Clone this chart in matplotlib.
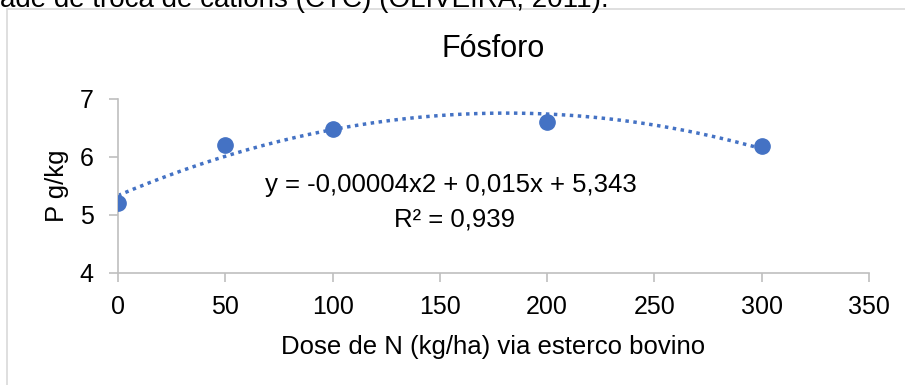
import numpy as np
import matplotlib.pyplot as plt
from matplotlib.patches import Rectangle

plt.rcParams['font.family'] = ['Liberation Sans', 'DejaVu Sans']

# data
dose = [0, 50, 100, 200, 300]
fosforo = [5.21, 6.21, 6.48, 6.61, 6.195]
x_ticks = [0, 50, 100, 150, 200, 250, 300, 350]
y_ticks = [4, 5, 6, 7]

blue = '#4472C4'
grey = '#BFBFBF'

fig = plt.figure(figsize=(9.05, 3.85), dpi=100)

# outer chart frame (only top and left edges visible in the crop)
fig.patches.append(Rectangle((7 / 905, -0.1), 1.0, 1 - 9 / 385 + 0.1,
                             transform=fig.transFigure, fill=False,
                             edgecolor='#D9D9D9', linewidth=1.2))
# cut-off text of the document above the figure
fig.text(0.0, 1 - 7 / 385, 'ade de troca de cátions (CTC) (OLIVEIRA, 2011).',
         fontsize=20, ha='left', va='baseline')

ax = fig.add_axes([118 / 905, 1 - 273 / 385, (869 - 118) / 905, (273 - 99) / 385])

# polynomial trendline (order 2), as in the spreadsheet
coef = np.polyfit(dose, fosforo, 2)
xs = np.linspace(min(dose), max(dose), 200)
ax.plot(xs, np.polyval(coef, xs), linestyle=(0, (1, 1.3)), color=blue, linewidth=2.5)
ax.plot(dose, fosforo, 'o', color=blue, markersize=11, zorder=3)

ax.set_xlim(0, 350)
ax.set_ylim(4, 7)
ax.set_xticks(x_ticks)
ax.set_yticks(y_ticks)
ax.tick_params(labelsize=18, color=grey, length=6.5, width=1.2, direction='out')
ax.tick_params(axis='x', pad=9)
ax.tick_params(axis='y', pad=11)
for s in ['top', 'right']:
    ax.spines[s].set_visible(False)
for s in ['left', 'bottom']:
    ax.spines[s].set_color(grey)
    ax.spines[s].set_linewidth(1.2)

ax.set_title('Fósforo', fontsize=22, pad=30)
ax.set_xlabel('Dose de N (kg/ha) via esterco bovino', fontsize=18.5, labelpad=12)
ax.set_ylabel('P g/kg', fontsize=18.5, labelpad=8)

ax.text(155, 5.52, 'y = -0,00004x2 + 0,015x + 5,343', fontsize=18.5, ha='center', va='center')
ax.text(157, 4.93, 'R² = 0,939', fontsize=18.5, ha='center', va='center')

fig.savefig('out.png', dpi=100)
